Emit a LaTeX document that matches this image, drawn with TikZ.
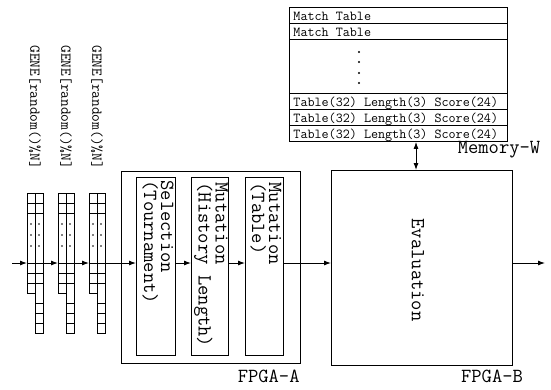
\documentclass[tikz,border=0pt]{standalone}
\usepackage{fontspec}
\usetikzlibrary{arrows.meta}
\begin{document}
\begin{tikzpicture}[x=1pt,y=-1pt,
  line width=0.9pt,
  arr/.style={-{Latex[length=7pt,width=5pt]}},
  dbl/.style={{Latex[length=7pt,width=5pt]}-{Latex[length=7pt,width=5pt]}},
  blk/.style={draw, inner sep=0pt, anchor=north west},
  vtxt/.style={rotate=-90, anchor=west, inner sep=0pt, align=left, font=\ttfamily\fontsize{20}{17}\selectfont},
  gtxt/.style={rotate=-90, anchor=west, inner sep=0pt, font=\ttfamily\fontsize{15}{15}\selectfont},
  mtxt/.style={anchor=base west, inner sep=0pt, font=\ttfamily\fontsize{13.7}{14}\selectfont},
  lbl/.style={inner sep=0pt, font=\ttfamily\fontsize{20}{20}\selectfont},
  cell/.style={line width=0.8pt}]
\useasboundingbox (0,0) rectangle (551,389);

% boxes
\node[blk, minimum width=179pt, minimum height=192pt] (fa) at (121,171) {};
\node[blk, minimum width=39pt, minimum height=178pt] (sel) at (136,177) {};
\node[blk, minimum width=37pt, minimum height=178pt] (mhl) at (191,177) {};
\node[blk, minimum width=38pt, minimum height=178pt] (mt) at (245,177) {};
\node[blk, minimum width=181pt, minimum height=195pt] (ev) at (331,170) {};
\node[blk, minimum width=218pt, minimum height=134pt] (mem) at (289,7) {};

% box texts
\node[vtxt] (selt) at (158,180) {Selection\\(Tournament)};
\node[vtxt] (mhlt) at (211,182) {Mutation\\(History Length)};
\node[vtxt] (mtt) at (266,182) {Mutation\\(Table)};
\node[vtxt, anchor=center] (evt) at (418,270) {Evaluation};

% labels
\node[lbl, anchor=east] (fal) at (300,376) {FPGA-A};
\node[lbl] (fbl) at (492,376) {FPGA-B};
\node[lbl] (mwl) at (499,150) {Memory-W};

% gene labels
\node[gtxt] (t1) at (35,45) {GENE[random()\%N]};
\node[gtxt] (t2) at (66,45) {GENE[random()\%N]};
\node[gtxt] (t3) at (97,45) {GENE[random()\%N]};

% gene arrays
\foreach \L in {27,58,89} {
  \draw[cell] (\L,193) -- ({\L+16},193) -- ({\L+16},333) -- ({\L+8},333) -- ({\L+8},293) -- (\L,293) -- cycle;
  \draw[cell] ({\L+8},193) -- ({\L+8},293);
  \foreach \y in {203,213,263,273,283} \draw[cell] (\L,\y) -- ({\L+16},\y);
  \foreach \y in {303,313,323} \draw[cell] ({\L+8},\y) -- ({\L+16},\y);
  \foreach \y in {224,235,246} {
    \fill ({\L+4},\y) circle (0.9);
    \fill ({\L+12},\y) circle (0.9);
  }
}

% memory table
\foreach \y in {23,39,93,109,125} \draw (289,\y) -- (507,\y);
\node[mtxt] (m1) at (293,20) {Match Table};
\node[mtxt] (m2) at (293,36) {Match Table};
\node[mtxt] (m3) at (293,106) {Table(32) Length(3) Score(24)};
\node[mtxt] (m4) at (293,122) {Table(32) Length(3) Score(24)};
\node[mtxt] (m5) at (293,138) {Table(32) Length(3) Score(24)};
\foreach \y in {52,62,73,83} \fill (359,\y) circle (1.1);

% coordinates
\coordinate (ya) at (0,263);
\coordinate (in) at (12,263);
\coordinate (g1w) at (27,263);
\coordinate (g1e) at (43,263);
\coordinate (g2w) at (58,263);
\coordinate (g2e) at (74,263);
\coordinate (g3w) at (89,263);
\coordinate (g3e) at (105,263);
\coordinate (out) at (545,263);
\coordinate (mw) at (416,0);

% connectors
\draw[arr] (in) -- (g1w);
\draw[arr] (g1e) -- (g2w);
\draw[arr] (g2e) -- (g3w);
\draw[arr] (g3e) -- (g3e -| sel.west);
\draw[arr] (sel.east |- ya) -- (mhl.west |- ya);
\draw[arr] (mhl.east |- ya) -- (mt.west |- ya);
\draw[arr] (mt.east |- ya) -- (ev.west |- ya);
\draw[arr] (ev.east |- ya) -- (out);
\draw[dbl] (mem.south -| mw) -- (ev.north -| mw);
\end{tikzpicture}
\end{document}
